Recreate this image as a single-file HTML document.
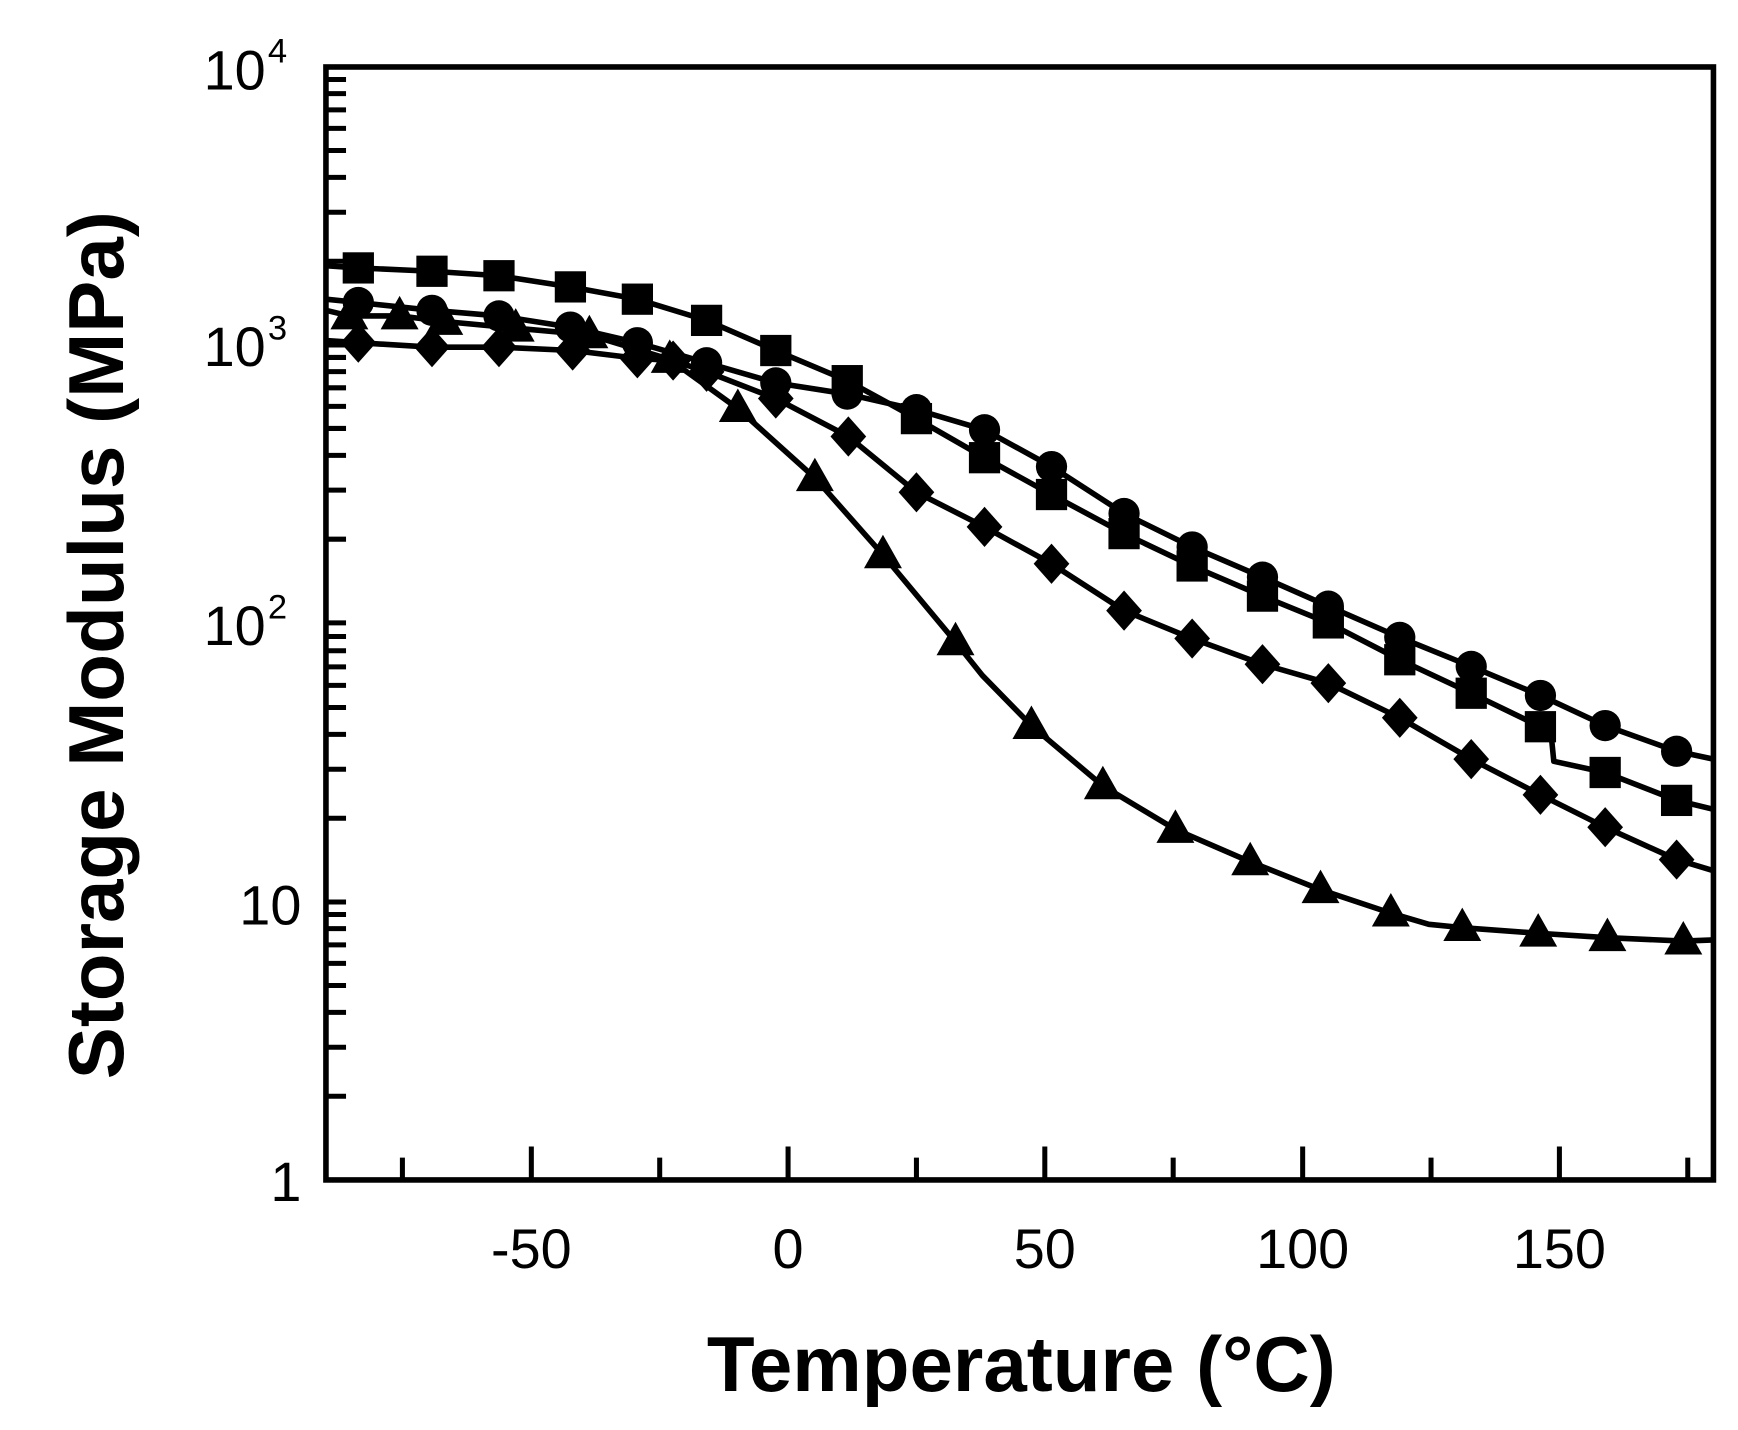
<!DOCTYPE html>
<html><head><meta charset="utf-8"><style>
html,body{margin:0;padding:0;background:#fff;}
svg{display:block;}
text{font-family:"Liberation Sans",Arial,sans-serif;fill:#000;}
</style></head><body>
<svg width="1738" height="1430" viewBox="0 0 1557 1281" preserveAspectRatio="none" xmlns="http://www.w3.org/2000/svg">
<defs>
<rect id="sq" x="-14" y="-14" width="28" height="28" fill="#000"/>
<circle id="ci" r="14" fill="#000"/>
<polygon id="tr" points="0,-18 17,12 -17,12" fill="#000"/>
<polygon id="di" points="0,-18 16,0 0,18 -16,0" fill="#000"/>
</defs>
<g fill="none" stroke="#000" stroke-width="5" stroke-linejoin="round">
<polyline points="292,238 321,240 387,243 447,247 511,257 571,268 633,287 695,314 759,341 821,375 882,410 942,443 1007,478 1068,507 1131,534 1190,558 1254,591 1318,621 1380,651 1390,662 1392,682 1438,692 1502,717 1535,725"/>
<polyline points="292,268 321,271 387,278 447,283 511,293 571,307 633,325 695,343 759,353 821,367 882,385 942,418 1007,460 1068,490 1131,517 1190,543 1254,571 1318,597 1380,623 1438,650 1502,673 1535,680"/>
<polyline points="292,278 313,283 358,283 398,288 462,294 528,300 600,322 661,366 730,428 791,497 856,575 880,605 924,650 988,704 1053,743 1120,772 1183,797 1246,818 1280,828 1310,831 1378,836 1440,840 1508,843 1535,842"/>
<polyline points="292,305 321,307 387,311 447,311 513,314 571,321 603,323 633,333 695,357 760,391 821,441 882,472 942,505 1007,547 1068,572 1131,595 1190,612 1254,643 1318,680 1380,712 1438,741 1502,770 1535,780"/>
</g>
<g>
<use href="#tr" x="313" y="283"/><use href="#tr" x="358" y="283"/><use href="#tr" x="398" y="288"/><use href="#tr" x="462" y="294"/><use href="#tr" x="528" y="300"/><use href="#tr" x="600" y="322"/><use href="#tr" x="661" y="366"/><use href="#tr" x="730" y="428"/><use href="#tr" x="791" y="497"/><use href="#tr" x="856" y="575"/><use href="#tr" x="924" y="650"/><use href="#tr" x="988" y="704"/><use href="#tr" x="1053" y="743"/><use href="#tr" x="1120" y="772"/><use href="#tr" x="1183" y="797"/><use href="#tr" x="1246" y="818"/><use href="#tr" x="1310" y="831"/><use href="#tr" x="1378" y="836"/><use href="#tr" x="1440" y="840"/><use href="#tr" x="1508" y="843"/>

<use href="#di" x="321" y="307"/><use href="#di" x="387" y="311"/><use href="#di" x="447" y="311"/><use href="#di" x="513" y="314"/><use href="#di" x="571" y="321"/><use href="#di" x="603" y="323"/><use href="#di" x="633" y="333"/><use href="#di" x="695" y="357"/><use href="#di" x="760" y="391"/><use href="#di" x="821" y="441"/><use href="#di" x="882" y="472"/><use href="#di" x="942" y="505"/><use href="#di" x="1007" y="547"/><use href="#di" x="1068" y="572"/><use href="#di" x="1131" y="595"/><use href="#di" x="1190" y="612"/><use href="#di" x="1254" y="643"/><use href="#di" x="1318" y="680"/><use href="#di" x="1380" y="712"/><use href="#di" x="1438" y="741"/><use href="#di" x="1502" y="770"/>

<use href="#ci" x="321" y="271"/><use href="#ci" x="387" y="278"/><use href="#ci" x="447" y="283"/><use href="#ci" x="511" y="293"/><use href="#ci" x="571" y="307"/><use href="#ci" x="633" y="325"/><use href="#ci" x="695" y="343"/><use href="#ci" x="759" y="353"/><use href="#ci" x="821" y="367"/><use href="#ci" x="882" y="385"/><use href="#ci" x="942" y="418"/><use href="#ci" x="1007" y="460"/><use href="#ci" x="1068" y="490"/><use href="#ci" x="1131" y="517"/><use href="#ci" x="1190" y="543"/><use href="#ci" x="1254" y="571"/><use href="#ci" x="1318" y="597"/><use href="#ci" x="1380" y="623"/><use href="#ci" x="1438" y="650"/><use href="#ci" x="1502" y="673"/>

<use href="#sq" x="321" y="240"/><use href="#sq" x="387" y="243"/><use href="#sq" x="447" y="247"/><use href="#sq" x="511" y="257"/><use href="#sq" x="571" y="268"/><use href="#sq" x="633" y="287"/><use href="#sq" x="695" y="314"/><use href="#sq" x="759" y="341"/><use href="#sq" x="821" y="375"/><use href="#sq" x="882" y="410"/><use href="#sq" x="942" y="443"/><use href="#sq" x="1007" y="478"/><use href="#sq" x="1068" y="507"/><use href="#sq" x="1131" y="534"/><use href="#sq" x="1190" y="558"/><use href="#sq" x="1254" y="591"/><use href="#sq" x="1318" y="621"/><use href="#sq" x="1380" y="651"/><use href="#sq" x="1438" y="692"/><use href="#sq" x="1502" y="717"/>
</g>
<rect x="292" y="60" width="1243" height="997" fill="none" stroke="#000" stroke-width="5"/>
<g stroke="#000" stroke-width="4.5">
<path d="M292,234h18M292,190.1h18M292,158.9h18M292,134.8h18M292,115h18M292,98.4h18M292,83.9h18M292,71.2h18
M292,483h18M292,439.1h18M292,407.9h18M292,383.8h18M292,364h18M292,347.4h18M292,332.9h18M292,320.2h18
M292,733h18M292,689.1h18M292,657.9h18M292,633.8h18M292,614h18M292,597.4h18M292,582.9h18M292,570.2h18
M292,982h18M292,938.1h18M292,906.9h18M292,882.8h18M292,863h18M292,846.4h18M292,831.9h18M292,819.2h18
M292,309h18M292,558h18M292,808h18"/>
<path d="M360.5,1057v-20M591,1057v-20M821,1057v-20M1051,1057v-20M1282,1057v-20M1512,1057v-20
M476,1057v-30M706,1057v-30M936,1057v-30M1167,1057v-30M1397,1057v-30"/>
</g>
<g font-size="50" text-anchor="end">
<text x="238" y="80">10</text><text x="240" y="56" text-anchor="start" font-size="31">4</text>
<text x="238" y="328">10</text><text x="240" y="304" text-anchor="start" font-size="31">3</text>
<text x="238" y="578">10</text><text x="240" y="554" text-anchor="start" font-size="31">2</text>
<text x="270" y="828">10</text>
<text x="270" y="1076">1</text>
</g>
<g font-size="50" text-anchor="middle">
<text x="476" y="1136">-50</text><text x="706" y="1136">0</text><text x="936" y="1136">50</text><text x="1167" y="1136">100</text><text x="1397" y="1136">150</text>
</g>
<text x="915" y="1246" font-size="70" font-weight="bold" text-anchor="middle">Temperature (°C)</text>
<text transform="translate(110,578) rotate(-90)" font-size="70" font-weight="bold" text-anchor="middle">Storage Modulus (MPa)</text>
</svg>
</body></html>
